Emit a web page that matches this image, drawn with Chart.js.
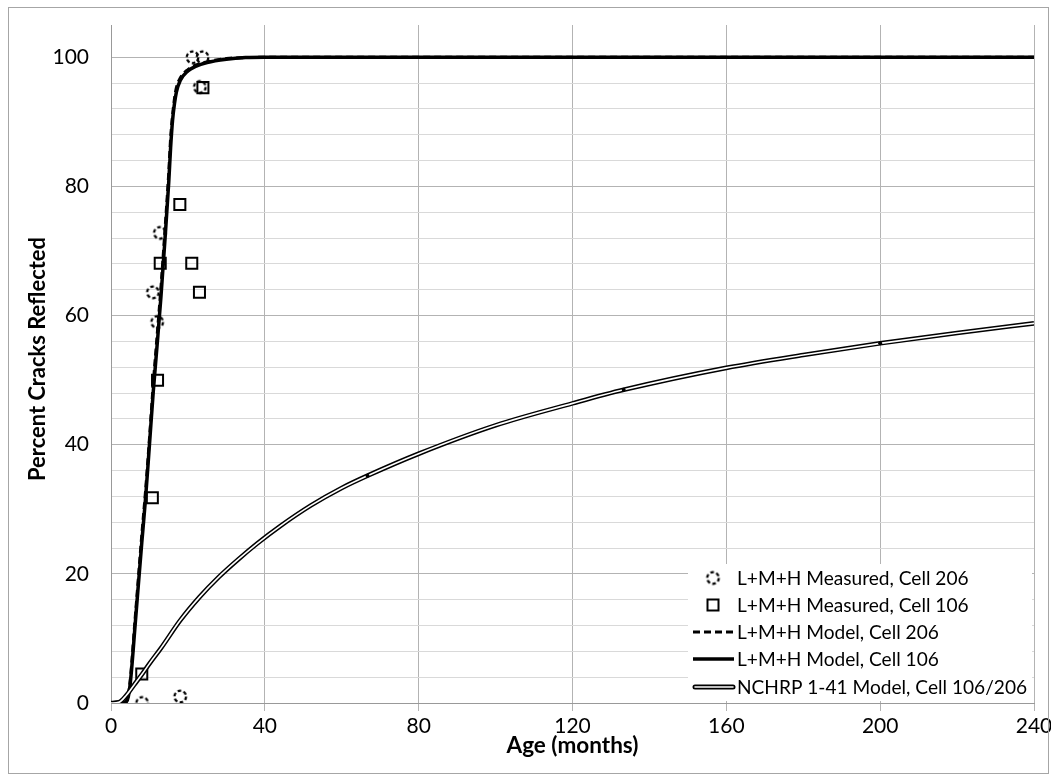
<!DOCTYPE html>
<html>
<head>
<meta charset="utf-8">
<script src="https://cdn.jsdelivr.net/npm/chart.js@4/dist/chart.umd.min.js"></script>
<style>
  html, body { margin: 0; padding: 0; background: #fff; }
  #wrap { position: relative; width: 1051px; height: 775px; }
  #frame { position: absolute; left: 8px; top: 7px; width: 1039px; height: 765px; border: 1px solid #a6a6a6; pointer-events: none; }
</style>
</head>
<body>
<div id="wrap">
  <canvas id="crackChart" width="1051" height="775"></canvas>
  <div id="frame"></div>
</div>
<script>
// measured points
const measuredAge206 = [8.1, 18.0, 10.9, 12.0, 12.7, 21.2, 23.8, 23.1];
const measuredPct206 = [0, 1, 63.6, 59.0, 72.8, 100, 100, 95.4];
const measuredAge106 = [8.0, 10.75, 12.1, 12.8, 17.9, 21.0, 23.0, 23.9];
const measuredPct106 = [4.5, 31.8, 50.0, 68.1, 77.2, 68.1, 63.6, 95.3];

// model curves
const modelAge = [0, 3, 4, 4.5, 5, 5.5, 6, 7, 8, 9, 10, 11, 12, 13, 14, 15, 15.5, 16, 16.5, 17, 18, 20, 22, 25, 30, 35, 40, 80, 120, 160, 200, 240];
const model106 = [0, 0, 0.2, 1, 3, 6.2, 10, 17.5, 24.8, 31.8, 40, 48.3, 55.5, 63, 71.5, 80.5, 86, 90.2, 92.8, 94.6, 96.4, 97.9, 98.6, 99.2, 99.7, 99.95, 100, 100, 100, 100, 100, 100];
const model206 = [0, 0, 0.3, 1.3, 3.5, 7, 11, 18.5, 26, 33, 41, 49.5, 57, 64.5, 73, 82, 87.5, 91, 93.6, 95.3, 96.8, 98.1, 98.8, 99.3, 99.8, 99.95, 100, 100, 100, 100, 100, 100];

const nchrpAge = [0, 2, 4, 6, 8, 10, 13, 18, 23, 28, 33, 38, 44, 52, 60, 66.7, 80, 100, 120, 133.3, 160, 180, 200, 220, 240];
const nchrpPct = [0, 0.1, 1.2, 2.8, 4.4, 6.1, 8.5, 12.8, 16.4, 19.5, 22.2, 24.7, 27.4, 30.6, 33.3, 35.2, 38.6, 43.0, 46.4, 48.5, 51.9, 53.9, 55.7, 57.3, 58.8];
const nchrpMarked = [66.7, 133.3, 200];

const xTicks = [0, 40, 80, 120, 160, 200, 240];
const yLabels = [0, 20, 40, 60, 80, 100];

const seriesNames = [
  'L+M+H Measured, Cell 206',
  'L+M+H Measured, Cell 106',
  'L+M+H Model, Cell 206',
  'L+M+H Model, Cell 106',
  'NCHRP 1-41 Model, Cell 106/206'
];

const FONT = 'Lato, "Open Sans", sans-serif';

function pairs(xs, ys) {
  return xs.map((x, i) => ({ x: x, y: ys[i] }));
}

function dashedCircle(r) {
  const c = document.createElement('canvas');
  const s = Math.ceil(2 * r + 5);
  c.width = s; c.height = s;
  const g = c.getContext('2d');
  g.lineWidth = 2.3;
  g.setLineDash([3.6, 2.4]);
  g.strokeStyle = '#000';
  g.beginPath();
  g.arc(s / 2, s / 2, r, 0, Math.PI * 2);
  g.stroke();
  return c;
}
const circleImg = dashedCircle(5.8);

// font size that makes a text span a given width
function fitFont(ctx, text, weight, width) {
  ctx.font = weight + ' 20px ' + FONT;
  const w = ctx.measureText(text).width;
  return weight + ' ' + (20 * width / w).toFixed(2) + 'px ' + FONT;
}

// legend + axis titles drawn by hand to sit where the original has them
const decorPlugin = {
  id: 'decor',
  afterDraw(chart) {
    const ctx = chart.ctx;
    const area = chart.chartArea;
    ctx.save();
    ctx.fillStyle = '#000';
    ctx.textAlign = 'center';
    ctx.textBaseline = 'middle';
    ctx.font = fitFont(ctx, 'Age (months)', 'bold', 132);
    ctx.fillText('Age (months)', (area.left + area.right) / 2, 746);
    ctx.translate(38, 359);
    ctx.rotate(-Math.PI / 2);
    ctx.font = fitFont(ctx, 'Percent Cracks Reflected', 'bold', 244);
    ctx.fillText('Percent Cracks Reflected', 0, 0);
    ctx.restore();

    // legend box
    ctx.save();
    ctx.fillStyle = '#fff';
    ctx.fillRect(688, 564, 344, 137);
    const rows = [578, 605, 632, 659, 687];
    ctx.font = fitFont(ctx, seriesNames[4], 'normal', 290);
    ctx.textAlign = 'left';
    ctx.textBaseline = 'middle';
    ctx.fillStyle = '#000';
    rows.forEach((y, i) => ctx.fillText(seriesNames[i], 737, y + 1));
    ctx.drawImage(circleImg, 713 - circleImg.width / 2, rows[0] - circleImg.height / 2);
    ctx.lineWidth = 2;
    ctx.strokeStyle = '#000';
    ctx.strokeRect(707.5, rows[1] - 5.5, 11, 11);
    ctx.lineWidth = 3;
    ctx.setLineDash([7, 4]);
    ctx.beginPath(); ctx.moveTo(693, rows[2]); ctx.lineTo(734, rows[2]); ctx.stroke();
    ctx.setLineDash([]);
    ctx.lineWidth = 3.5;
    ctx.beginPath(); ctx.moveTo(693, rows[3]); ctx.lineTo(734, rows[3]); ctx.stroke();
    ctx.lineWidth = 5;
    ctx.lineCap = 'round';
    ctx.beginPath(); ctx.moveTo(695, rows[4]); ctx.lineTo(733, rows[4]); ctx.stroke();
    ctx.strokeStyle = '#fff';
    ctx.lineWidth = 1.6;
    ctx.beginPath(); ctx.moveTo(695, rows[4]); ctx.lineTo(733, rows[4]); ctx.stroke();
    ctx.restore();
  }
};

const ctx = document.getElementById('crackChart').getContext('2d');
const crackChart = new Chart(ctx, {
  type: 'scatter',
  data: {
    datasets: [
      {
        label: seriesNames[0],
        data: pairs(measuredAge206, measuredPct206),
        pointStyle: circleImg,
        pointRadius: 7,
        order: 6
      },
      {
        label: seriesNames[1],
        data: pairs(measuredAge106, measuredPct106),
        pointStyle: 'rect',
        pointRadius: 7.8,
        pointBorderWidth: 2,
        pointBorderColor: '#000',
        pointBackgroundColor: 'rgba(0,0,0,0)',
        order: 5
      },
      {
        label: seriesNames[2],
        data: pairs(modelAge, model206),
        showLine: true,
        borderColor: '#000',
        borderWidth: 3,
        borderDash: [7, 4],
        pointRadius: 0,
        cubicInterpolationMode: 'monotone',
        order: 3
      },
      {
        label: seriesNames[3],
        data: pairs(modelAge, model106),
        showLine: true,
        borderColor: '#000',
        borderWidth: 3.5,
        pointRadius: 0,
        cubicInterpolationMode: 'monotone',
        order: 2
      },
      {
        label: seriesNames[4],
        data: pairs(nchrpAge, nchrpPct),
        showLine: true,
        borderColor: '#000',
        borderWidth: 4.6,
        pointRadius: 0,
        cubicInterpolationMode: 'monotone',
        order: 1
      },
      {
        label: 'nchrp-core',
        data: pairs(nchrpAge, nchrpPct),
        showLine: true,
        borderColor: '#fff',
        borderWidth: 1.6,
        pointRadius: c => nchrpMarked.includes(nchrpAge[c.dataIndex]) ? 2 : 0,
        pointBackgroundColor: '#000',
        pointBorderWidth: 0,
        cubicInterpolationMode: 'monotone',
        order: 0
      }
    ]
  },
  options: {
    responsive: false,
    animation: false,
    layout: { padding: { top: 25, right: 17, left: 0, bottom: 0 } },
    plugins: {
      legend: { display: false },
      tooltip: { enabled: false }
    },
    scales: {
      x: {
        type: 'linear',
        min: 0,
        max: 240,
        afterFit: s => { s.height = 72; s.paddingLeft = 0; s.paddingRight = 0; },
        afterBuildTicks: s => { s.ticks = xTicks.map(v => ({ value: v })); },
        ticks: {
          font: { family: FONT, size: 21 },
          color: '#000',
          padding: 3,
          maxRotation: 0
        },
        grid: {
          color: '#b3b3b3',
          lineWidth: 1,
          drawTicks: true,
          tickLength: 8,
          tickColor: '#b3b3b3'
        },
        border: { display: true, color: '#999' }
      },
      y: {
        type: 'linear',
        min: 0,
        max: 105,
        afterFit: s => { s.width = 111; s.paddingTop = 0; s.paddingBottom = 0; },
        ticks: {
          stepSize: 4,
          autoSkip: false,
          font: { family: FONT, size: 21 },
          color: '#000',
          padding: 22,
          callback: v => yLabels.includes(v) ? v : ''
        },
        grid: {
          drawTicks: false,
          color: c => {
            const v = c.tick.value;
            if (v > 104) return 'rgba(0,0,0,0)';
            return v % 20 === 0 ? '#b3b3b3' : '#d9d9d9';
          },
          lineWidth: 1
        },
        border: { display: true, color: '#999' }
      }
    }
  },
  plugins: [decorPlugin]
});
</script>
</body>
</html>
